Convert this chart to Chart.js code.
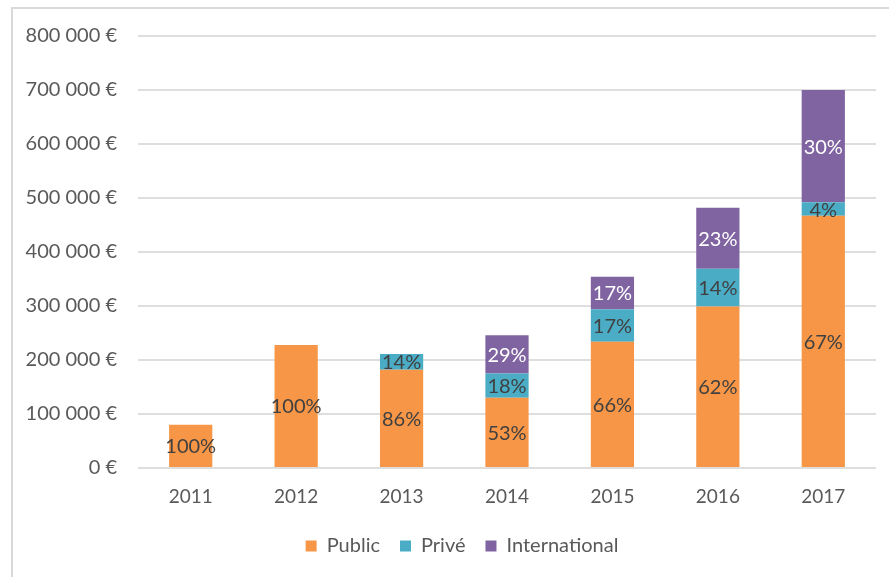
<!DOCTYPE html>
<html><head><meta charset="utf-8">
<script src="https://cdn.jsdelivr.net/npm/chart.js@4/dist/chart.umd.min.js"></script>
<style>
html,body{margin:0;padding:0;background:#fff;overflow:hidden;}
#frame{position:absolute;left:11px;top:7px;width:900px;height:600px;border:2px solid #d9d9d9;box-sizing:border-box;}
#wrap{position:absolute;left:0;top:0;width:889px;height:577px;}
</style></head>
<body>
<div id="frame"></div>
<div id="wrap"><canvas id="c" width="889" height="577"></canvas></div>
<script>
const categories = ['2011','2012','2013','2014','2015','2016','2017'];
const publicVals = [80000, 228000, 182000, 130000, 234000, 299000, 467000];
const priveVals = [0, 0, 29000, 45000, 60000, 70000, 25000];
const intlVals = [0, 0, 0, 71000, 60000, 113000, 208000];
const publicLabels = ['100%','100%','86%','53%','66%','62%','67%'];
const priveLabels = ['','','14%','18%','17%','14%','4%'];
const intlLabels = ['','','','29%','17%','23%','30%'];
const FONT = 'Lato, "Open Sans", sans-serif';

const labelPlugin = {
  id: 'barLabels',
  afterDatasetsDraw(chart) {
    const ctx = chart.ctx;
    ctx.save();
    ctx.font = '20px ' + FONT;
    ctx.textAlign = 'center';
    ctx.textBaseline = 'middle';
    chart.data.datasets.forEach((ds, i) => {
      const meta = chart.getDatasetMeta(i);
      meta.data.forEach((bar, j) => {
        const txt = ds.pctLabels[j];
        if (!txt) return;
        const p = bar.getProps(['x','y','base'], true);
        ctx.fillStyle = ds.labelColor;
        ctx.fillText(txt, p.x, (p.y + p.base) / 2 + 1);
      });
    });
    ctx.restore();
  }
};

const legendShift = {
  id: 'legendShift',
  afterLayout(chart) {
    const l = chart.legend;
    if (l) { l.left = 48; l.right = 876; }
  }
};

new Chart(document.getElementById('c'), {
  type: 'bar',
  data: {
    labels: categories,
    datasets: [
      {label: 'Public', data: publicVals, backgroundColor: '#F79646', pctLabels: publicLabels, labelColor: '#404040'},
      {label: 'Privé', data: priveVals, backgroundColor: '#4BACC6', pctLabels: priveLabels, labelColor: '#404040'},
      {label: 'International', data: intlVals, backgroundColor: '#8064A2', pctLabels: intlLabels, labelColor: '#ffffff'}
    ]
  },
  options: {
    responsive: false,
    animation: false,
    layout: {padding: {left: 0, right: 13, top: 36, bottom: 11}},
    datasets: {bar: {barPercentage: 0.41, categoryPercentage: 1}},
    scales: {
      x: {
        stacked: true,
        afterFit(s) { s.height = 48; },
        grid: {display: false},
        border: {display: false},
        ticks: {color: '#595959', font: {family: FONT, size: 19}, padding: 9}
      },
      y: {
        stacked: true,
        min: 0, max: 800000,
        afterFit(s) { s.width = 138; },
        grid: {color: '#dedede', lineWidth: 2, drawTicks: false},
        border: {display: false},
        ticks: {
          stepSize: 100000, color: '#595959', font: {family: FONT, size: 20}, padding: 21,
          callback: v => (v === 0 ? '0' : (v/1000) + '\u00a0000') + '\u00a0€'
        }
      }
    },
    plugins: {
      legend: {
        position: 'bottom',
        labels: {boxWidth: 11, boxHeight: 11, color: '#595959', font: {family: FONT, size: 20}, padding: 20}
      },
      tooltip: {enabled: false}
    }
  },
  plugins: [labelPlugin, legendShift]
});
</script>
</body></html>
